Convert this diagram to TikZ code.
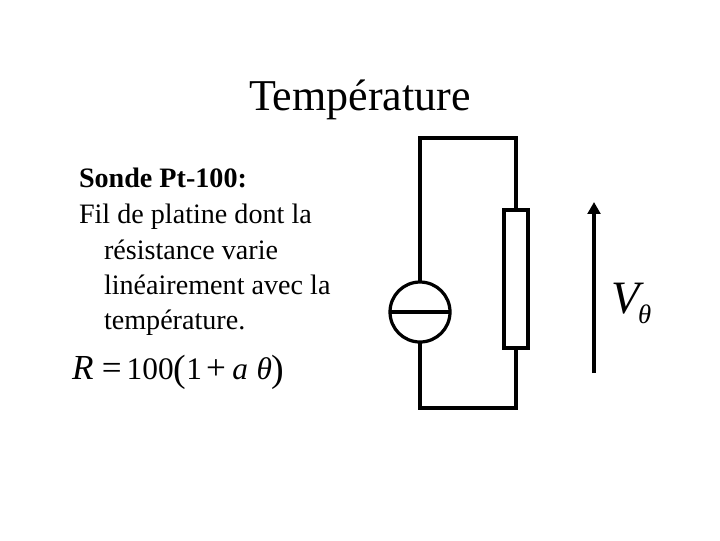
\documentclass[tikz,border=0pt]{standalone}
\usepackage{fontspec}
\setmainfont{Liberation Serif}
\usetikzlibrary{positioning,arrows.meta}
\tikzset{
  every node/.style={inner sep=0pt,outer sep=0pt},
  wire/.style={line width=2.3pt},
  textline/.style={anchor=base west,font=\fontsize{20}{24}\selectfont},
}
\newcommand{\bigparen}[1]{\raisebox{-1.5pt}{\fontsize{27}{27}\selectfont #1}}
\newcommand{\bigop}[1]{{\fontsize{25}{26}\selectfont #1}}
\begin{document}
\begin{tikzpicture}[x=0.025cm,y=-0.025cm]
        \useasboundingbox (0,0) rectangle (720,540);
        \node[anchor=base,font=\fontsize{31.3}{36}\selectfont] (title) at (360,110) {Température};
        \node[textline,font=\fontsize{20}{24}\selectfont\bfseries] (sonde) at (79,187) {Sonde Pt-100:};
        \node[textline] (fil) at (79,223) {Fil de platine dont la};
        \node[textline] (res) at (104,259) {résistance varie};
        \node[textline] (lin) at (104,294) {linéairement avec la};
        \node[textline] (temp) at (104,329) {température.};
        \node[anchor=base west,font=\fontsize{22.3}{26}\selectfont] (eq) at (72,379) {\bigop{\textit{R}}\kern6pt\bigop{=}\kern3.5pt100\bigparen{(}1\kern3pt\bigop{+}\kern4.5pt\textit{a}\kern6pt\textit{θ}\bigparen{)}};
        % circuit
        \coordinate (topL) at (420,138);
        \coordinate (topR) at (516,138);
        \coordinate (botL) at (420,408);
        \coordinate (botR) at (516,408);
        \node[draw,wire,circle,minimum size=60*0.025cm] (src) at (420,312) {};
        \node[draw,wire,rectangle,minimum width=24*0.025cm,minimum height=138*0.025cm] (rth) at (516,279) {};
        \draw[wire] (src.north) -- (topL) -- (topR) -- (rth.north);
        \draw[wire] (src.south) -- (botL) -- (botR) -- (rth.south);
        \draw[wire] (src.west) -- (src.east);
        \coordinate (arrS) at (594,373);
        \coordinate (arrE) at (594,202);
        \draw[line width=2.8pt,-{Triangle[length=8.5pt,width=9pt]}] (arrS) -- (arrE);
        \node[anchor=base west,font=\fontsize{33}{38}\selectfont\itshape] (V) at (611,313) {V};
        \node[anchor=base west,font=\fontsize{19}{20}\selectfont\itshape] (theta) at (638,323) {θ};
    \end{tikzpicture}
\end{document}
